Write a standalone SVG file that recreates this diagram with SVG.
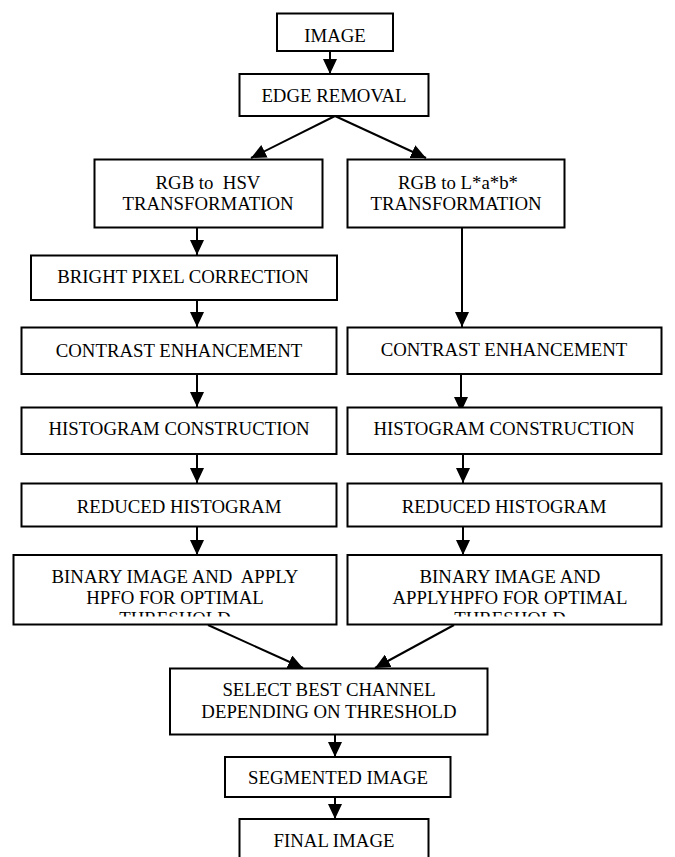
<svg xmlns="http://www.w3.org/2000/svg" width="675" height="857" viewBox="0 0 675 857">
<style>
.box{fill:#fff;stroke:#000;stroke-width:2}
.t{font-family:"Liberation Serif","Times New Roman",serif;font-size:18.8px;fill:#000;text-anchor:middle;white-space:pre}
.c{stroke:#000;stroke-width:2;fill:none;marker-end:url(#ah)}
</style>
<defs>
<marker id="ah" markerUnits="userSpaceOnUse" markerWidth="16" markerHeight="14" refX="15" refY="7" orient="auto">
<path d="M0,0 L15,7 L0,14 z" fill="#000"/>
</marker>
<clipPath id="clipL"><rect x="0" y="600" width="340" height="16.5"/></clipPath>
<clipPath id="clipR"><rect x="340" y="600" width="335" height="16.5"/></clipPath>
</defs>
<rect width="675" height="857" fill="#fff"/>
<g id="connectors">
<line class="c" x1="330" y1="51" x2="330" y2="74"/>
<line class="c" x1="335" y1="116" x2="251" y2="158"/>
<line class="c" x1="335" y1="116" x2="426" y2="158"/>
<line class="c" x1="197" y1="228" x2="197" y2="255"/>
<line class="c" x1="197" y1="300" x2="197" y2="327"/>
<line class="c" x1="462" y1="228" x2="462" y2="327"/>
<line class="c" x1="197" y1="374" x2="197" y2="407"/>
<line class="c" x1="461" y1="374" x2="461" y2="412"/>
<line class="c" x1="197" y1="454" x2="197" y2="483"/>
<line class="c" x1="463" y1="454" x2="463" y2="483"/>
<line class="c" x1="197" y1="527" x2="197" y2="555"/>
<line class="c" x1="463" y1="527" x2="463" y2="555"/>
<line class="c" x1="208" y1="625" x2="303" y2="668"/>
<line class="c" x1="454" y1="625" x2="375" y2="668"/>
<line class="c" x1="335" y1="734" x2="335" y2="757"/>
<line class="c" x1="335" y1="797" x2="335" y2="819"/>
</g>
<g id="image"><rect class="box" x="277" y="13.5" width="116" height="37.5"/><text class="t" x="335" y="41.5">IMAGE</text></g>
<g id="edge-removal"><rect class="box" x="239.5" y="74" width="189" height="42"/><text class="t" x="334" y="101.5">EDGE REMOVAL</text></g>
<g id="rgb-hsv"><rect class="box" x="94.5" y="159.5" width="228" height="68"/><text class="t" x="208" y="189">RGB to  HSV</text><text class="t" x="208" y="210">TRANSFORMATION</text></g>
<g id="rgb-lab"><rect class="box" x="347.5" y="159.5" width="217" height="68"/><text class="t" x="458" y="189">RGB to L*a*b*</text><text class="t" x="456" y="210">TRANSFORMATION</text></g>
<g id="bright-pixel"><rect class="box" x="31" y="255.5" width="306" height="44.5"/><text class="t" x="183" y="282.5">BRIGHT PIXEL CORRECTION</text></g>
<g id="contrast-left"><rect class="box" x="21.5" y="327.5" width="315" height="46.5"/><text class="t" x="179" y="356.5">CONTRAST ENHANCEMENT</text></g>
<g id="contrast-right"><rect class="box" x="347.5" y="327.5" width="314" height="46.5"/><text class="t" x="504" y="356">CONTRAST ENHANCEMENT</text></g>
<g id="histogram-left"><rect class="box" x="21.5" y="407.5" width="315" height="46.5"/><text class="t" x="179" y="435">HISTOGRAM CONSTRUCTION</text></g>
<g id="histogram-right"><rect class="box" x="347.5" y="407.5" width="314" height="46.5"/><text class="t" x="504" y="435">HISTOGRAM CONSTRUCTION</text></g>
<g id="reduced-left"><rect class="box" x="21.5" y="483.5" width="315" height="43"/><text class="t" x="179" y="512.5">REDUCED HISTOGRAM</text></g>
<g id="reduced-right"><rect class="box" x="347.5" y="483.5" width="314" height="43"/><text class="t" x="504" y="512.5">REDUCED HISTOGRAM</text></g>
<g id="binary-left"><rect class="box" x="13.5" y="555" width="323" height="69.5"/><text class="t" x="175" y="582.5">BINARY IMAGE AND  APPLY</text><text class="t" x="175" y="603.5">HPFO FOR OPTIMAL</text><text class="t" x="175" y="624.5" clip-path="url(#clipL)">THRESHOLD</text></g>
<g id="binary-right"><rect class="box" x="347.5" y="555" width="314" height="69.5"/><text class="t" x="510" y="582.5">BINARY IMAGE AND</text><text class="t" x="510" y="603.5">APPLYHPFO FOR OPTIMAL</text><text class="t" x="510" y="624.5" clip-path="url(#clipR)">THRESHOLD</text></g>
<g id="select-best"><rect class="box" x="170" y="668.5" width="317.5" height="66"/><text class="t" x="329" y="696">SELECT BEST CHANNEL</text><text class="t" x="329" y="717.5">DEPENDING ON THRESHOLD</text></g>
<g id="segmented"><rect class="box" x="225" y="757" width="225.5" height="40"/><text class="t" x="338" y="784">SEGMENTED IMAGE</text></g>
<g id="final-image"><rect class="box" x="239.5" y="819" width="189" height="60"/><text class="t" x="334" y="846.5">FINAL IMAGE</text></g>
</svg>
